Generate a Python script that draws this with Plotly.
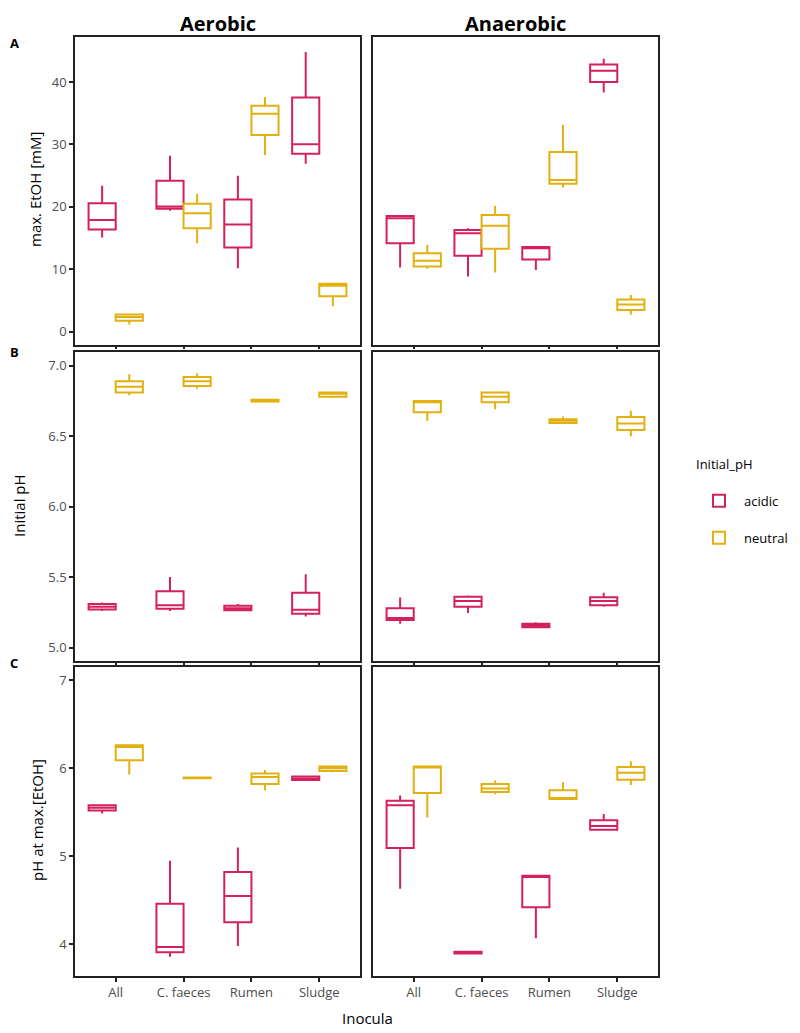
import plotly.graph_objects as go

CATEGORIES = ["All", "C. faeces", "Rumen", "Sludge"]
GROUPS = ["acidic", "neutral"]
COLORS = {"acidic": "#D4215E", "neutral": "#E2B110"}

# each row: [lower whisker, q1, median, q3, upper whisker] per inoculum
# A: max. EtOH [mM]
etoh_aer_acidic = [[15.1, 16.4, 17.9, 20.6, 23.4], [19.4, 19.7, 20.05, 24.2, 28.2],
                   [10.2, 13.5, 17.2, 21.2, 25.0], [26.9, 28.5, 30.05, 37.5, 44.8]]
etoh_aer_neutral = [[1.2, 1.8, 2.4, 2.8, 2.9], [14.2, 16.6, 19.0, 20.5, 22.1],
                    [28.3, 31.5, 34.9, 36.2, 37.6], [4.1, 5.7, 7.4, 7.7, 7.7]]
etoh_ana_acidic = [[10.3, 14.2, 18.2, 18.56, 18.6], [8.85, 12.2, 15.8, 16.3, 16.6],
                   [9.9, 11.6, 13.4, 13.6, 13.65], [38.3, 40.0, 41.8, 42.8, 43.7]]
etoh_ana_neutral = [[10.1, 10.45, 11.4, 12.6, 13.9], [9.5, 13.3, 17.0, 18.7, 20.2],
                    [23.1, 23.7, 24.3, 28.8, 33.1], [2.8, 3.5, 4.4, 5.2, 5.9]]

# B: initial pH
ph0_aer_acidic = [[5.26, 5.27, 5.29, 5.31, 5.32], [5.26, 5.275, 5.30, 5.40, 5.50],
                  [5.26, 5.265, 5.28, 5.297, 5.31], [5.22, 5.24, 5.268, 5.39, 5.52]]
ph0_aer_neutral = [[6.79, 6.81, 6.85, 6.89, 6.94], [6.837, 6.856, 6.89, 6.92, 6.946],
                   [6.74, 6.745, 6.752, 6.758, 6.76], [6.77, 6.78, 6.80, 6.81, 6.81]]
ph0_ana_acidic = [[5.17, 5.195, 5.21, 5.28, 5.356], [5.245, 5.29, 5.33, 5.36, 5.37],
                  [5.14, 5.145, 5.155, 5.17, 5.18], [5.29, 5.30, 5.33, 5.357, 5.39]]
ph0_ana_neutral = [[6.61, 6.67, 6.74, 6.75, 6.75], [6.69, 6.74, 6.78, 6.81, 6.816],
                   [6.59, 6.594, 6.61, 6.62, 6.64], [6.50, 6.544, 6.59, 6.636, 6.68]]

# C: pH at max. [EtOH]
phmax_aer_acidic = [[5.485, 5.52, 5.55, 5.58, 5.59], [3.86, 3.91, 3.97, 4.46, 4.95],
                    [3.98, 4.25, 4.55, 4.82, 5.10], [5.86, 5.865, 5.88, 5.905, 5.91]]
phmax_aer_neutral = [[5.93, 6.09, 6.24, 6.26, 6.26], [5.882, 5.886, 5.89, 5.895, 5.90],
                     [5.75, 5.82, 5.90, 5.94, 5.98], [5.955, 5.97, 6.0, 6.02, 6.02]]
phmax_ana_acidic = [[4.63, 5.095, 5.58, 5.63, 5.69], [3.89, 3.895, 3.905, 3.915, 3.92],
                    [4.07, 4.42, 4.765, 4.78, 4.78], [5.29, 5.30, 5.345, 5.41, 5.48]]
phmax_ana_neutral = [[5.44, 5.72, 6.01, 6.02, 6.02], [5.705, 5.73, 5.77, 5.82, 5.86],
                     [5.64, 5.65, 5.66, 5.75, 5.84], [5.81, 5.87, 5.95, 6.015, 6.08]]

PANELS = [
    [(etoh_aer_acidic, etoh_aer_neutral), (etoh_ana_acidic, etoh_ana_neutral)],
    [(ph0_aer_acidic, ph0_aer_neutral), (ph0_ana_acidic, ph0_ana_neutral)],
    [(phmax_aer_acidic, phmax_aer_neutral), (phmax_ana_acidic, phmax_ana_neutral)],
]

Y_TITLES = ["max. EtOH [mM]", "Initial pH", "pH at max.[EtOH]"]
Y_RANGES = [[-2.1, 47.2], [4.905, 7.097], [3.64, 7.15]]
Y_TICKS = [[0, 10, 20, 30, 40], [5.0, 5.5, 6.0, 6.5, 7.0], [4, 5, 6, 7]]
Y_TICKTEXT = [["0", "10", "20", "30", "40"], ["5.0", "5.5", "6.0", "6.5", "7.0"],
              ["4", "5", "6", "7"]]

W, H = 800, 1033
# the page body adds an 8px margin, so positions are shifted back by that much
OFF = 8


def px(x):
    return (x - OFF) / W


def py(y):
    return 1 - (y - OFF) / H


X_DOMAINS = [[px(75), px(360)], [px(373), px(658)]]
Y_DOMAINS = [[py(345), py(37)], [py(661), py(352)], [py(976), py(667)]]

FONT = "Open Sans"

fig = go.Figure()
layout = {}

for r in range(3):
    for c in range(2):
        i = r * 2 + c + 1
        sfx = "" if i == 1 else str(i)
        for g, data in zip(GROUPS, PANELS[r][c]):
            fig.add_trace(go.Box(
                x=CATEGORIES,
                lowerfence=[d[0] for d in data], q1=[d[1] for d in data],
                median=[d[2] for d in data], q3=[d[3] for d in data],
                upperfence=[d[4] for d in data],
                name=g, offsetgroup=g, legendgroup=g, showlegend=(i == 1),
                line=dict(color=COLORS[g], width=2), fillcolor="white",
                whiskerwidth=0, boxpoints=False, hoverinfo="skip",
                xaxis="x" + sfx, yaxis="y" + sfx))

        layout["xaxis" + sfx] = dict(
            domain=X_DOMAINS[c], anchor="y" + sfx, type="category",
            categoryorder="array", categoryarray=CATEGORIES, range=[-0.6, 3.6],
            showline=True, mirror=True, linecolor="#222", linewidth=1.5,
            ticks="outside", ticklen=4 if r == 2 else 2, tickcolor="#222", tickwidth=1.5,
            showticklabels=(r == 2), tickfont=dict(family=FONT, size=13, color="#4D4D4D"),
            showgrid=False, zeroline=False, fixedrange=True, automargin=False)
        layout["yaxis" + sfx] = dict(
            domain=Y_DOMAINS[r], anchor="x" + sfx, range=Y_RANGES[r],
            tickvals=Y_TICKS[r], ticktext=Y_TICKTEXT[r],
            showline=True, mirror=True, linecolor="#222", linewidth=1.5,
            ticks="outside" if c == 0 else "", ticklen=4, tickcolor="#222", tickwidth=1.5,
            showticklabels=(c == 0), tickfont=dict(family=FONT, size=13, color="#4D4D4D"),
            showgrid=False, zeroline=False, fixedrange=True, automargin=False)

annotations = [
    dict(text="<b>Aerobic</b>", x=sum(X_DOMAINS[0]) / 2, y=1, yanchor="top", font=dict(size=20)),
    dict(text="<b>Anaerobic</b>", x=sum(X_DOMAINS[1]) / 2, y=1, yanchor="top", font=dict(size=20)),
    dict(text="<b>A</b>", x=px(14), y=py(43), font=dict(size=13)),
    dict(text="<b>B</b>", x=px(14), y=py(352), font=dict(size=13)),
    dict(text="<b>C</b>", x=px(14), y=py(663), font=dict(size=13)),
    dict(text=Y_TITLES[0], x=px(35), y=py(190), textangle=-90, font=dict(size=15)),
    dict(text=Y_TITLES[1], x=px(19), y=py(506), textangle=-90, font=dict(size=15)),
    dict(text=Y_TITLES[2], x=px(37), y=py(820), textangle=-90, font=dict(size=15)),
    dict(text="Inocula", x=px(367), y=py(1018), font=dict(size=15)),
]
for a in annotations:
    a.setdefault("yanchor", "middle")
    a.update(xref="paper", yref="paper", showarrow=False, xanchor="center")
    a["font"].update(family=FONT, color="black")

fig.update_layout(
    **layout,
    annotations=annotations,
    width=W, height=H,
    margin=dict(l=0, r=0, t=0, b=0, autoexpand=False),
    paper_bgcolor="white", plot_bgcolor="white",
    boxmode="group", boxgap=0.2, boxgroupgap=0,
    font=dict(family=FONT, color="black"),
    legend=dict(
        title=dict(text="Initial_pH<br> ", font=dict(family=FONT, size=13)),
        font=dict(family=FONT, size=13), x=px(694), y=py(452),
        xanchor="left", yanchor="top", tracegroupgap=17, itemwidth=40),
)

fig.write_html("out.html")
